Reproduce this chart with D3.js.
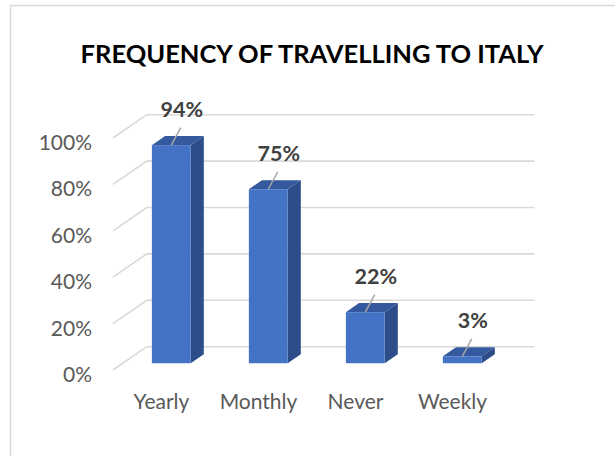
<!DOCTYPE html>
<html>
<head>
<meta charset="utf-8">
<script src="https://cdn.jsdelivr.net/npm/d3@7"></script>
<style>
  html, body { margin: 0; padding: 0; background: #fff; }
  svg { display: block; }
</style>
</head>
<body>
<svg id="chart" width="615" height="456"></svg>
<script>
const title = "FREQUENCY OF TRAVELLING TO ITALY";
const categories = ["Yearly", "Monthly", "Never", "Weekly"];
const values = [0.94, 0.75, 0.22, 0.03];
const valueLabels = ["94%", "75%", "22%", "3%"];
const tickValues = [0, 0.2, 0.4, 0.6, 0.8, 1.0];
const tickLabels = ["0%", "20%", "40%", "60%", "80%", "100%"];

const svg = d3.select("#chart");
const W = 615, H = 456;
const FONT = "Lato, 'Open Sans', sans-serif";

svg.append("rect").attr("width", W).attr("height", H).attr("fill", "#fff");
// chart frame
svg.append("rect").attr("x", 10.5).attr("y", 5.5).attr("width", 640).attr("height", 480)
  .attr("fill", "none").attr("stroke", "#d9d9d9").attr("stroke-width", 1.5);

// title
svg.append("text").attr("x", 312).attr("y", 62.5).attr("text-anchor", "middle")
  .attr("font-family", FONT).attr("font-weight", "bold").attr("font-size", 25.5)
  .attr("fill", "#000").text(title);

// 3D geometry: front plane + depth vector
const depth = { dx: 33.7, dy: -23.3 };
const barF0 = 0.29, barF1 = 0.68;

const x = d3.scaleBand().domain(categories).range([113, 501]).paddingInner(0.6).paddingOuter(0.3);
const y = d3.scaleLinear().domain([0, 1]).range([370, 138]);

// gridlines (side wall diagonal + back wall horizontal)
const grid = svg.append("g").attr("stroke", "#d9d9d9").attr("stroke-width", 1.6).attr("fill", "none");
tickValues.forEach(t => {
  const yf = y(t);
  grid.append("path").attr("d", d3.line()([
    [113, yf], [113 + depth.dx, yf + depth.dy], [534.5, yf + depth.dy]
  ]));
});

// y tick labels
svg.append("g").selectAll("text").data(tickValues).join("text")
  .attr("x", 92).attr("y", d => y(d) + 3.5).attr("text-anchor", "end")
  .attr("dominant-baseline", "central")
  .attr("font-family", FONT).attr("font-size", 21).attr("fill", "#595959")
  .text((d, i) => tickLabels[i]);

// bars
const bars = svg.append("g");
categories.forEach((c, i) => {
  const ox = depth.dx * barF0, oy = depth.dy * barF0;
  const bx = depth.dx * (barF1 - barF0), by = depth.dy * (barF1 - barF0);
  const x0 = x(c) + ox, x1 = x(c) + x.bandwidth() + ox;
  const yb = y(0) + oy, yt = y(values[i]) + oy;
  // side
  bars.append("path").attr("fill", "#2c4d89")
    .attr("d", d3.line()([[x1, yt], [x1 + bx, yt + by], [x1 + bx, yb + by], [x1, yb]]) + "Z");
  // top
  bars.append("path").attr("fill", "#34599f")
    .attr("d", d3.line()([[x0, yt], [x1, yt], [x1 + bx, yt + by], [x0 + bx, yt + by]]) + "Z");
  // front
  bars.append("rect").attr("x", x0).attr("y", yt).attr("width", x1 - x0).attr("height", yb - yt)
    .attr("fill", "#4472c4");
  // leader line & label
  const cx = (x0 + x1) / 2;
  const lx = cx + 9.5, ly = yt - 17.5;
  bars.append("line").attr("x1", cx).attr("y1", yt).attr("x2", lx).attr("y2", ly)
    .attr("stroke", "#a6a6a6").attr("stroke-width", 1.5);
  bars.append("text").attr("x", lx + 1).attr("y", ly - 10.5).attr("text-anchor", "middle")
    .attr("font-family", FONT).attr("font-weight", "bold").attr("font-size", 21.5)
    .attr("fill", "#404040").text(valueLabels[i]);
});

// category labels
svg.append("g").selectAll("text").data(categories).join("text")
  .attr("x", d => x(d) + x.bandwidth() / 2).attr("y", 409).attr("text-anchor", "middle")
  .attr("font-family", FONT).attr("font-size", 21).attr("fill", "#595959")
  .text(d => d);
</script>
</body>
</html>
